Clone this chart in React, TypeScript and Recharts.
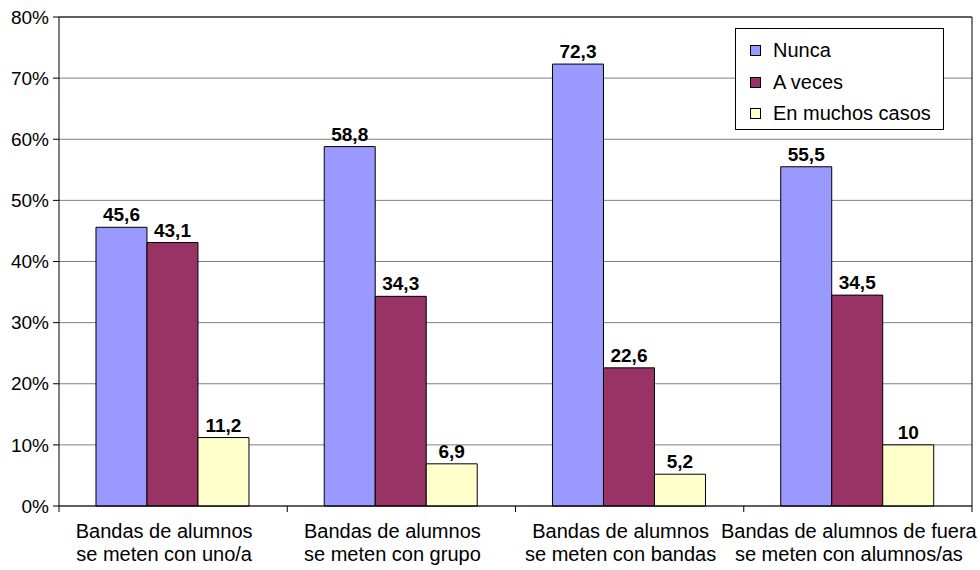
import React from "react";
import {
  BarChart,
  Bar,
  XAxis,
  YAxis,
  CartesianGrid,
  Legend,
  LabelList,
  ReferenceLine,
} from "recharts";

const CATEGORIES = [
  "Bandas de alumnos\nse meten con uno/a",
  "Bandas de alumnos\nse meten con grupo",
  "Bandas de alumnos\nse meten con bandas",
  "Bandas de alumnos de fuera\nse meten con alumnos/as",
];
const NUNCA = [45.6, 58.8, 72.3, 55.5];
const A_VECES = [43.1, 34.3, 22.6, 34.5];
const MUCHOS = [11.2, 6.9, 5.2, 10];
const Y_TICKS = [0, 10, 20, 30, 40, 50, 60, 70, 80];
const SERIES_ORDER = ["Nunca", "A veces", "En muchos casos"];

const data = CATEGORIES.map((name, i) => ({
  name,
  nunca: NUNCA[i],
  aveces: A_VECES[i],
  muchos: MUCHOS[i],
}));

const FONT = '"Liberation Sans", Arial, sans-serif';

// category label + tick marks on the category boundaries (like Excel)
const CategoryTick = (props: any) => {
  const { x, y, payload } = props;
  const lines = String(payload.value).split("\n");
  const half = payload.offset || 0;
  const axisY = y - 8;
  return (
    <g>
      {half > 0 && (
        <line x1={x + half} x2={x + half} y1={axisY} y2={axisY + 6} stroke="#000" />
      )}
      {half > 0 && payload.index === 0 && (
        <line x1={x - half} x2={x - half} y1={axisY} y2={axisY + 6} stroke="#000" />
      )}
      <text x={x - 9} y={y} textAnchor="middle" fontSize={20} fill="#000" fontFamily={FONT}>
        {lines.map((line, i) => (
          <tspan key={i} x={x - 9} dy={i === 0 ? 24 : 23}>
            {line}
          </tspan>
        ))}
      </text>
    </g>
  );
};

const renderLegend = (props: any) => {
  const items = [...(props.payload || [])].sort(
    (a: any, b: any) => SERIES_ORDER.indexOf(a.value) - SERIES_ORDER.indexOf(b.value)
  );
  return (
    <div
      style={{
        border: "1px solid #000",
        background: "#fff",
        width: 209,
        height: 102,
        boxSizing: "border-box",
        paddingTop: 6,
        fontFamily: FONT,
        fontSize: 20,
        color: "#000",
      }}
    >
      {items.map((entry: any) => (
        <div key={entry.value} style={{ display: "flex", alignItems: "center", height: 31.5 }}>
          <span
            style={{
              display: "inline-block",
              width: 9,
              height: 9,
              background: entry.color,
              border: "1px solid #000",
              marginLeft: 14,
              marginRight: 12,
            }}
          />
          <span>{entry.value}</span>
        </div>
      ))}
    </div>
  );
};

const fmt = (v: any) => String(v).replace(".", ",");

export default function App() {
  return (
    <div style={{ position: "absolute", left: 0, top: 0, background: "#fff" }}>
      <BarChart
        width={980}
        height={570}
        data={data}
        margin={{ top: 17, right: 7, bottom: 0, left: 0 }}
        barCategoryGap="16.2%"
        barGap={0}
        style={{ fontFamily: FONT }}
      >
        <CartesianGrid horizontal vertical={false} stroke="#808080" />
        <XAxis
          dataKey="name"
          interval={0}
          height={64}
          axisLine={{ stroke: "#000" }}
          tickLine={false}
          tick={<CategoryTick />}
        />
        <YAxis
          domain={[0, 80]}
          ticks={Y_TICKS}
          width={59}
          tickFormatter={(v) => `${v}%`}
          tick={{ fill: "#000", fontSize: 19, fontFamily: FONT }}
          axisLine={{ stroke: "#000" }}
          tickLine={{ stroke: "#000" }}
          tickMargin={4}
        />
        <YAxis
          yAxisId="right"
          orientation="right"
          domain={[0, 80]}
          width={1}
          tick={false}
          tickLine={false}
          axisLine={{ stroke: "#000" }}
        />
        <ReferenceLine y={80} stroke="#000" />
        <Legend
          layout="vertical"
          align="center"
          verticalAlign="middle"
          content={renderLegend}
          wrapperStyle={{ left: 735, top: 28, width: 209, height: 102 }}
        />
        <Bar dataKey="nunca" name="Nunca" fill="#9999FF" stroke="#000" isAnimationActive={false}>
          <LabelList dataKey="nunca" position="top" offset={6} formatter={fmt} fill="#000" fontSize={19} fontWeight="bold" fontFamily={FONT} />
        </Bar>
        <Bar dataKey="aveces" name="A veces" fill="#993366" stroke="#000" isAnimationActive={false}>
          <LabelList dataKey="aveces" position="top" offset={6} formatter={fmt} fill="#000" fontSize={19} fontWeight="bold" fontFamily={FONT} />
        </Bar>
        <Bar dataKey="muchos" name="En muchos casos" fill="#FFFFCC" stroke="#000" isAnimationActive={false}>
          <LabelList dataKey="muchos" position="top" offset={6} formatter={fmt} fill="#000" fontSize={19} fontWeight="bold" fontFamily={FONT} />
        </Bar>
      </BarChart>
    </div>
  );
}
